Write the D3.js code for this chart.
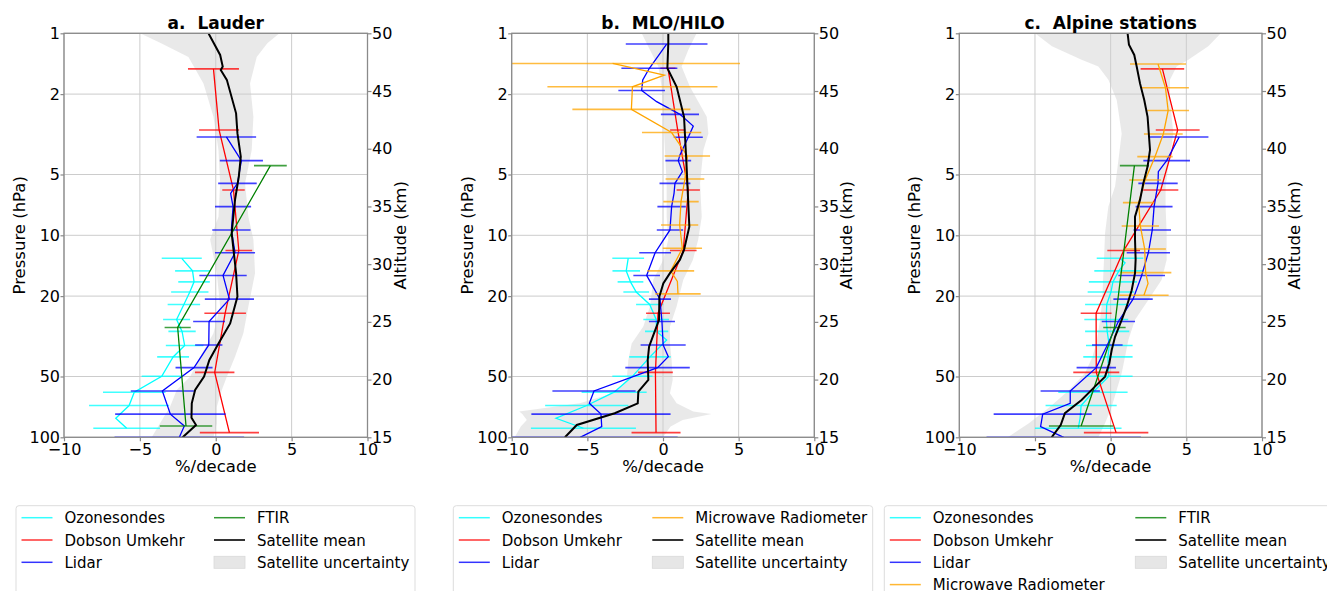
<!DOCTYPE html>
<html lang="en">
<head>
<meta charset="UTF-8">
<title>Ozone trend profiles</title>
<script src="https://d3js.org/d3.v7.min.js"></script>
<style>
  body { margin: 0; background: #fff; }
  svg text { font-family: "DejaVu Sans", sans-serif; fill: #000; }
</style>
</head>
<body>
<div id="chart"></div>
<script>
// ---- axis ticks and titles ----
const xTicks = [-10, -5, 0, 5, 10];
const pTicks = [1, 2, 5, 10, 20, 50, 100];
const altTicks = [15, 20, 25, 30, 35, 40, 45, 50];
const panelTitles = ["a.  Lauder", "b.  MLO/HILO", "c.  Alpine stations"];

// ---- a. Lauder : [pressure hPa, trend %/decade, half error bar] ----
const lauderSondes = [[13.0,-2.24,1.32],[15.0,-1.53,1.15],[17.0,-1.43,1.04],[19.1,-1.71,1.23],[22.0,-2.10,1.07],
  [26.1,-2.58,0.89],[29.9,-2.22,0.90],[35.1,-2.05,1.24],[40.0,-2.81,1.05],[49.9,-3.56,1.32],[59.8,-5.37,2.06],
  [69.6,-5.71,2.64],[80.5,-6.59,0],[90.2,-5.87,2.2]];
const lauderDobson = [[1.50,-0.15,1.68],[3.01,0.22,1.32],[5.97,1.17,0.74],[11.9,1.52,0.88],[24.3,0.62,1.37],
  [47.7,-0.07,1.3],[94.8,0.9,1.95]];
const lauderLidar = [[3.26,0.70,1.96],[4.27,1.69,1.42],[5.53,1.43,1.27],[6.2,0.98,0],[7.21,1.14,1.19],[9.41,1.03,1.26],
  [12.2,1.27,1.32],[15.8,0.48,1.56],[20.7,0.90,1.62],[26.7,-0.44,1.05],[34.9,-0.46,0.90],[45.2,-1.43,1.22],
  [59.0,-3.52,2.08],[76.8,-2.99,3.64],[87.9,-2.07,0],[100,-2.4,4.27]];
const lauderFtir = [[4.52,3.60,1.08],[28.6,-2.51,0.86],[87.9,-1.96,1.73]];
const lauderSatMean = [[1,-0.48],[1.28,0.29],[1.46,0.46],[1.52,0.33],[1.70,0.73],[2.49,1.34],[3.13,1.43],[4.08,1.65],
  [5.13,1.52],[6.68,1.27],[9.77,1.05],[15.4,1.34],[20.1,1.43],[27.3,0.95],[34.3,0.18],[41.4,-0.42],[50.1,-0.77],
  [58.3,-1.36],[67.9,-1.58],[80,-1.6],[86.9,-1.30],[100,-2.18]];
const lauderSatBand = [[1,-4.99,4.2],[1.12,-3.6,3.4],[1.31,-1.8,2.7],[1.77,-0.81,2.26],[2.59,-0.15,2.48],[3.78,0.18,2.37],
  [5.53,0.29,1.93],[8.09,0.18,2.15],[10.5,-0.37,2.48],[15.4,0.07,2.59],[22.5,0.29,2.15],[30.5,-0.15,1.82],
  [39.9,-1.03,1.27],[50.1,-1.69,0.73],[58.3,-2.57,0.40],[70.5,-3.01,0.07],[85.3,-3.67,0.07],[100,-4.22,-0.15]];

// ---- b. MLO/HILO ----
const mloSondes = [[13.0,-2.3,1.05],[15.0,-2.43,0.91],[17.0,-2.15,0.85],[19.1,-1.77,0.85],[22.0,-0.88,0.9],
  [26.1,-0.45,0.85],[29.9,-0.42,0.77],[33.0,0.24,0],[40.0,-0.86,1.37],[49.9,-2.02,1.33],[59.8,-3.23,2.15],
  [69.6,-5.04,2.75],[80.5,-7.07,0],[90.2,-5.26,3.47]];
const mloDobson = [[1.49,0.33,0.5],[3.01,0.97,0.5],[5.97,1.67,0.77],[11.9,1.34,0.88],[24.3,-0.33,0.79],
  [47.7,-0.5,1.15],[94.8,-0.46,1.62]];
const mloLidar = [[1.13,0.24,2.7],[1.49,-0.90,1.85],[1.70,-1.34,0],[1.92,-1.41,1.54],[2.18,-0.42,0],[2.52,1.12,1.26],
  [2.88,2.0,0],[3.27,1.67,0.96],[4.0,1.12,0],[4.27,1.01,0.85],[4.84,1.28,0],[5.53,0.79,1.02],[6.2,0.73,0],
  [7.21,0.57,0.94],[9.41,0.46,0.87],[12.2,-0.52,1.05],[15.8,-1.08,0.88],[20.7,-0.2,0.73],[26.7,-0.07,0.86],
  [34.9,0.01,1.49],[39.9,0.35,0],[45.2,-0.36,2.13],[59.0,-4.56,2.75],[67.9,-4.87,0],[76.8,-4.1,4.6],
  [88.5,-4.05,0],[100,-5.48,6.45]];
const mloMwr = [[1.41,-3.33,8.42],[1.61,0.09,0],[1.84,-2.02,5.62],[2.38,-2.09,3.9],[3.10,0.57,1.96],[4.05,1.61,1.5],
  [5.26,1.45,1.28],[6.81,1.19,1.17],[8.89,1.1,1.23],[11.6,1.28,1.3],[15.0,0.51,1.55],[16.9,0.95,0],[19.5,0.99,1.5]];
const mloSatMean = [[1,0.35],[1.12,0.35],[1.49,0.29],[1.84,0.90],[2.59,1.39],[4.57,1.56],[9.06,1.74],[11.8,1.39],
  [13.2,1.12],[15.4,0.46],[17.3,0.02],[20.1,-0.24],[26.2,-0.26],[30.5,-0.59],[35.6,-0.92],[41.4,-1.01],[52.0,-0.97],
  [59.4,-1.63],[67.9,-1.67],[76.0,-3.19],[86.9,-5.7],[100,-6.48]];
const mloSatBand = [[1,-1.41,2.22],[1.21,-0.86,1.67],[1.46,-0.31,1.23],[1.84,-0.09,1.78],[2.59,0.02,2.89],[3.13,0.07,3.0],
  [3.78,0.13,2.67],[5.53,0.24,2.45],[8.09,0.24,2.56],[10.5,0.35,2.33],[13.2,0.02,1.98],[16.6,-0.64,1.34],
  [22.5,-0.86,0.90],[28.3,-1.3,0.46],[34.3,-2.07,0.46],[41.4,-2.29,0.57],[52.0,-2.40,0.64],[60.5,-3.3,0.46],
  [67.9,-5.5,0.9],[74.5,-9.5,2.0],[76.6,-9.3,3.2],[82.0,-9.0,1.3],[88.5,-9.4,0.5],[100,-9.8,0.0]];

// ---- c. Alpine stations ----
const alpineSondes = [[13.0,0.62,1.54],[13.7,0.95,0],[15.0,0.54,1.62],[17.0,0.15,1.59],[19.1,0.02,1.54],[22.0,-0.26,1.43],
  [26.1,-0.29,1.45],[29.9,-0.23,1.46],[35.1,-0.09,1.54],[40.0,-0.18,1.63],[49.9,-0.12,1.57],[59.8,-1.17,2.29],
  [69.6,-1.95,2.35],[80.5,-2.02,0],[90.2,-2.14,2.86]];
const alpineDobson = [[1.50,3.42,1.44],[3.01,4.43,1.45],[5.97,3.31,1.16],[11.9,0.86,1.08],[24.3,-0.96,1.02],
  [47.7,-0.95,1.52],[94.8,0.36,2.13]];
const alpineLidar = [[3.26,4.53,1.93],[4.27,3.7,1.54],[4.84,3.15,0],[5.53,3.13,1.3],[7.21,2.87,1.22],[9.41,2.75,1.24],
  [12.2,2.49,1.43],[15.8,2.05,1.54],[20.7,1.48,1.3],[26.7,0.51,1.1],[34.9,-0.22,1.01],[45.2,-0.95,1.3],
  [59.0,-2.67,1.96],[67.9,-2.67,0],[76.8,-4.49,3.24],[88.5,-4.63,0],[100,-3.1,5.1]];
const alpineMwr = [[1.42,3.13,1.85],[1.86,3.62,1.55],[2.41,3.8,1.38],[3.15,3.48,1.28],[4.08,2.93,1.17],[5.32,2.28,1.05],
  [6.89,1.85,1.04],[8.99,1.96,1.23],[11.7,2.25,1.4],[15.3,2.31,1.7],[17.3,2.47,0],[19.8,2.2,1.63]];
const alpineFtir = [[4.52,1.57,0.96],[28.6,0.25,0.74],[87.9,-1.95,2.13]];
const alpineSatMean = [[1,1.12],[1.14,1.21],[1.28,1.56],[1.46,1.72],[1.77,1.94],[2.14,2.22],[2.59,2.44],[3.78,2.6],
  [4.57,2.44],[5.53,2.16],[6.68,1.94],[8.09,1.61],[10.5,1.61],[13.2,1.65],[15.4,1.61],[18.7,1.39],[22.5,1.06],
  [26.2,0.73],[31.8,0.29],[37.0,0.07],[43.0,-0.09],[50.1,-0.37],[56.1,-1.04],[65.3,-1.92],[76.0,-3.02],
  [86.9,-3.30],[100,-3.9]];
const alpineSatBand = [[1,-5.0,7.28],[1.16,-3.88,6.45],[1.35,-1.92,5.13],[1.46,-0.81,4.36],[1.70,-0.15,3.92],
  [2.14,0.40,3.92],[3.13,0.73,4.14],[4.57,0.46,3.81],[5.74,0.29,3.63],[7.21,-0.15,3.63],[9.77,-0.37,3.70],
  [13.2,-0.44,3.70],[16.6,-0.5,3.37],[20.9,-0.55,2.49],[26.2,-0.70,1.61],[33.0,-0.90,1.17],[39.9,-1.2,0.95],
  [48.2,-1.70,0.73],[58.3,-2.74,0.40],[70.5,-4.0,0.07],[85.3,-5.4,-0.37],[100,-6.8,-0.81]];

// ---- legend labels ----
const legendA = ["Ozonesondes", "Dobson Umkehr", "Lidar", "FTIR", "Satellite mean", "Satellite uncertainty"];
const legendB = ["Ozonesondes", "Dobson Umkehr", "Lidar", "Microwave Radiometer", "Satellite mean", "Satellite uncertainty"];
const legendC = ["Ozonesondes", "Dobson Umkehr", "Lidar", "Microwave Radiometer", "FTIR", "Satellite mean", "Satellite uncertainty"];

const colors = {
  "Ozonesondes": "#00ffff", "Dobson Umkehr": "#ff0000", "Lidar": "#0000ff",
  "FTIR": "#008000", "Microwave Radiometer": "#ffa500", "Satellite mean": "#000000"
};

// layout
const plotTop = 33.3, plotBottom = 437.3;
const panels = [
  {x0: 64, x1: 367.5, title: panelTitles[0], band: lauderSatBand, mean: lauderSatMean,
   series: [["Ozonesondes", lauderSondes], ["Dobson Umkehr", lauderDobson], ["Lidar", lauderLidar], ["FTIR", lauderFtir]],
   legend: {x: 16, w: 399, rows: 3, col2: 198, labels: legendA}},
  {x0: 511.7, x1: 814.3, title: panelTitles[1], band: mloSatBand, mean: mloSatMean,
   series: [["Ozonesondes", mloSondes], ["Dobson Umkehr", mloDobson], ["Lidar", mloLidar], ["Microwave Radiometer", mloMwr]],
   legend: {x: 453.3, w: 419.4, rows: 3, col2: 199, labels: legendB}},
  {x0: 959.3, x1: 1262, title: panelTitles[2], band: alpineSatBand, mean: alpineSatMean,
   series: [["Ozonesondes", alpineSondes], ["Dobson Umkehr", alpineDobson], ["Lidar", alpineLidar],
            ["Microwave Radiometer", alpineMwr], ["FTIR", alpineFtir]],
   legend: {x: 884.3, w: 452, rows: 4, col2: 251, labels: legendC}}
];

const svg = d3.select("#chart").append("svg")
  .attr("width", 1327).attr("height", 591);

const y = d3.scaleLog().domain([1, 100]).range([plotTop, plotBottom]);
const alt = d3.scaleLinear().domain([50, 15]).range([plotTop, plotBottom]);

panels.forEach((P, i) => {
  const x = d3.scaleLinear().domain([-10, 10]).range([P.x0, P.x1]);
  const g = svg.append("g");

  g.append("clipPath").attr("id", "clip" + i)
    .append("rect").attr("x", P.x0).attr("y", plotTop)
    .attr("width", P.x1 - P.x0).attr("height", plotBottom - plotTop);

  // grid
  g.selectAll(".gx").data(xTicks).join("line")
    .attr("x1", d => x(d)).attr("x2", d => x(d))
    .attr("y1", plotTop).attr("y2", plotBottom)
    .attr("stroke", "#cccccc").attr("stroke-width", 1);
  g.selectAll(".gy").data(pTicks).join("line")
    .attr("x1", P.x0).attr("x2", P.x1)
    .attr("y1", d => y(d)).attr("y2", d => y(d))
    .attr("stroke", "#cccccc").attr("stroke-width", 1);

  const plot = g.append("g").attr("clip-path", `url(#clip${i})`);

  // satellite uncertainty band
  plot.append("path").datum(P.band)
    .attr("fill", "#cfcfcf").attr("fill-opacity", 0.45)
    .attr("d", d3.area().y(d => y(d[0])).x0(d => x(d[1])).x1(d => x(d[2])));

  const line = d3.line().x(d => x(d[1])).y(d => y(d[0]));

  P.series.forEach(([name, data]) => {
    const c = colors[name];
    plot.append("path").datum(data)
      .attr("fill", "none").attr("stroke", c).attr("stroke-width", 1.3)
      .attr("d", line);
    plot.selectAll(null).data(data.filter(d => d[2] > 0)).join("line")
      .attr("x1", d => x(d[1] - d[2])).attr("x2", d => x(d[1] + d[2]))
      .attr("y1", d => y(d[0])).attr("y2", d => y(d[0]))
      .attr("stroke", c).attr("stroke-width", 1.6).attr("stroke-opacity", 0.75);
  });

  // satellite mean
  plot.append("path").datum(P.mean)
    .attr("fill", "none").attr("stroke", "#000").attr("stroke-width", 2)
    .attr("d", line);

  // frame
  g.append("rect").attr("x", P.x0).attr("y", plotTop)
    .attr("width", P.x1 - P.x0).attr("height", plotBottom - plotTop)
    .attr("fill", "none").attr("stroke", "#8a8a8a").attr("stroke-width", 1.3);

  // axes
  const styleAxis = sel => {
    sel.select(".domain").remove();
    sel.selectAll(".tick line").attr("stroke", "#8a8a8a").attr("stroke-width", 1.2);
    sel.selectAll(".tick text").style("font-size", "16px").style("font-family", "DejaVu Sans");
  };
  g.append("g").attr("transform", `translate(0,${plotBottom})`)
    .call(d3.axisBottom(x).tickValues(xTicks).tickSize(4).tickPadding(2).tickFormat(d3.format("d")))
    .call(styleAxis);
  g.append("g").attr("transform", `translate(${P.x0},0)`)
    .call(d3.axisLeft(y).tickValues(pTicks).tickSize(3.5).tickPadding(0.5).tickFormat(d3.format("d")))
    .call(styleAxis);
  g.append("g").attr("transform", `translate(${P.x1},0)`)
    .call(d3.axisRight(alt).tickValues(altTicks).tickSize(4).tickPadding(0.5).tickFormat(d3.format("d")))
    .call(styleAxis);

  // labels
  const cx = (P.x0 + P.x1) / 2;
  g.append("text").attr("x", cx).attr("y", 29.3).attr("text-anchor", "middle")
    .style("font-size", "17px").style("font-weight", "bold").style("white-space", "pre")
    .text(P.title);
  g.append("text").attr("x", cx).attr("y", 471.7).attr("text-anchor", "middle")
    .style("font-size", "16.5px").text("%/decade");
  g.append("text").attr("transform", `translate(${P.x0 - 39},${(plotTop + plotBottom) / 2}) rotate(-90)`)
    .attr("text-anchor", "middle").style("font-size", "16.5px").text("Pressure (hPa)");
  g.append("text").attr("transform", `translate(${P.x1 + 38},${(plotTop + plotBottom) / 2}) rotate(-90)`)
    .attr("text-anchor", "middle").style("font-size", "16.5px").text("Altitude (km)");

  // legend
  const L = P.legend;
  const rowGap = 22.3, boxTop = 505.7;
  const lg = svg.append("g");
  lg.append("rect").attr("x", L.x).attr("y", boxTop).attr("rx", 3)
    .attr("width", L.w).attr("height", 26 + rowGap * L.rows)
    .attr("fill", "#fff").attr("stroke", "#dddddd").attr("stroke-width", 1);
  L.labels.forEach((lab, k) => {
    const col = k < L.rows ? 0 : 1;
    const row = col ? k - L.rows : k;
    const hx = L.x + (col ? L.col2 : 5.5);
    const ry = 517.7 + row * rowGap;
    if (lab === "Satellite uncertainty") {
      lg.append("rect").attr("x", hx).attr("y", ry - 6).attr("width", 31).attr("height", 12)
        .attr("fill", "#e6e6e6").attr("stroke", "#d9d9d9").attr("stroke-width", 0.8);
    } else {
      lg.append("line").attr("x1", hx).attr("x2", hx + 31).attr("y1", ry).attr("y2", ry)
        .attr("stroke", colors[lab]).attr("stroke-width", lab === "Satellite mean" ? 2 : 1.5)
        .attr("stroke-opacity", 0.8);
    }
    lg.append("text").attr("x", hx + 43).attr("y", ry + 5.5)
      .style("font-size", "15px").text(lab);
  });
});
</script>
</body>
</html>
